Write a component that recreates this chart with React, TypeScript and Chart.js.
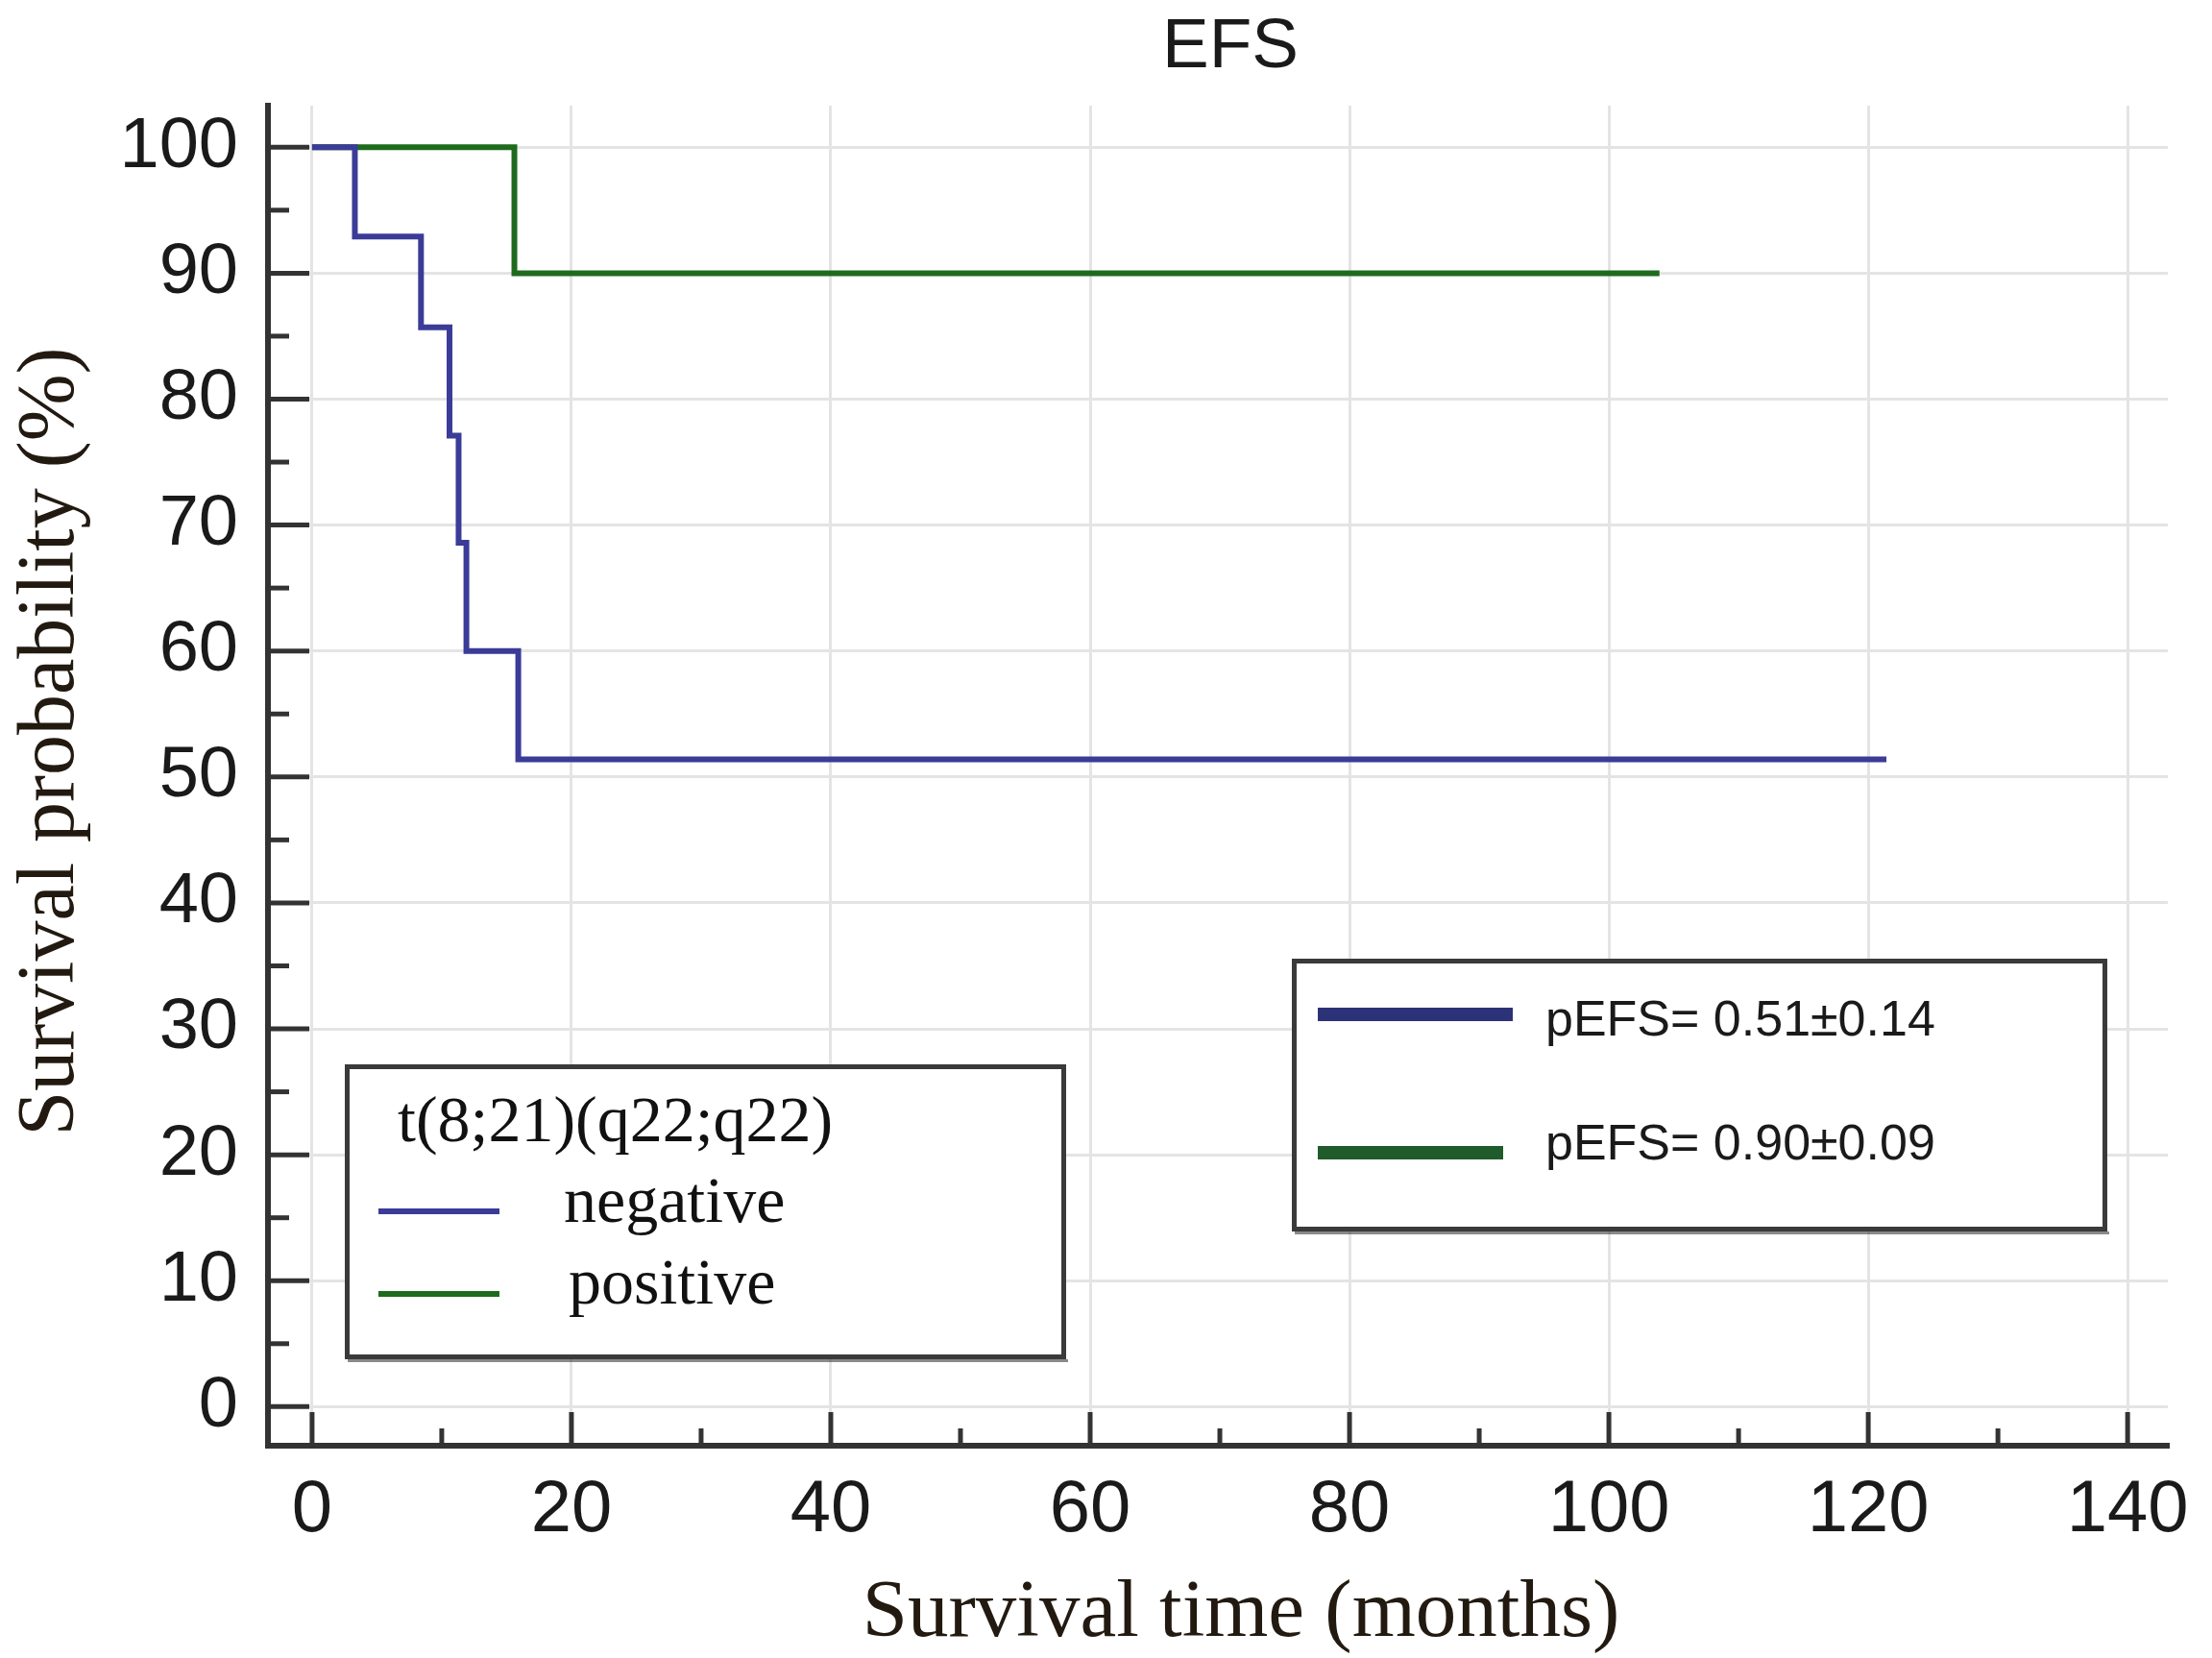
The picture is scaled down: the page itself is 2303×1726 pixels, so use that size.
import React, { useEffect, useRef } from 'react';
import { Chart, registerables } from 'chart.js';

Chart.register(...registerables);

// Kaplan-Meier steps
const negativeMonths = [0, 3.3, 8.4, 10.6, 11.3, 11.9, 15.9, 121.4];
const negativeSurvival = [100, 92.9, 85.7, 77.1, 68.6, 60.0, 51.4, 51.4];
const positiveMonths = [0, 15.6, 103.9];
const positiveSurvival = [100, 90, 90];

const xMajorTicks = [0, 20, 40, 60, 80, 100, 120, 140];
const yMajorTicks = [0, 10, 20, 30, 40, 50, 60, 70, 80, 90, 100];

const chartTitle = 'EFS';
const xTitle = 'Survival time (months)';
const yTitle = 'Survival probability (%)';
const legendTitle = 't(8;21)(q22;q22)';
const groupLabels = ['negative', 'positive'];
const estimateLabels = ['pEFS= 0.51\u00B10.14', 'pEFS= 0.90\u00B10.09'];

const BLUE = '#3b3b98';
const GREEN = '#1e6b1e';
const SANS = "'Liberation Sans', Arial, sans-serif";
const SERIF = "'Liberation Serif', 'Times New Roman', serif";

const overlayPlugin = {
    id: 'overlay',
    afterDraw(chart: any) {
        const { ctx, chartArea: a, scales } = chart;
        const x = scales.x;
        const y = scales.y;
        ctx.save();

        // ticks point into the plot
        ctx.strokeStyle = '#333';
        ctx.lineWidth = 5;
        for (let v = 0; v <= 100; v += 5) {
            const py = y.getPixelForValue(v);
            const len = v % 10 === 0 ? 43 : 22;
            ctx.beginPath();
            ctx.moveTo(a.left, py);
            ctx.lineTo(a.left + len, py);
            ctx.stroke();
        }
        for (let v = 0; v <= 140; v += 10) {
            const px = x.getPixelForValue(v);
            const len = v % 20 === 0 ? 35 : 18;
            ctx.beginPath();
            ctx.moveTo(px, a.bottom);
            ctx.lineTo(px, a.bottom - len);
            ctx.stroke();
        }

        // titles
        ctx.fillStyle = '#1a1a1a';
        ctx.textBaseline = 'alphabetic';
        ctx.textAlign = 'center';
        ctx.font = `73px ${SANS}`;
        ctx.fillText(chartTitle, 1281, 70);
        ctx.fillStyle = '#221a10';
        ctx.font = `85px ${SERIF}`;
        ctx.fillText(xTitle, 1292, 1703);
        ctx.save();
        ctx.translate(76, 772);
        ctx.rotate(-Math.PI / 2);
        ctx.font = `84px ${SERIF}`;
        ctx.fillText(yTitle, 0, 0);
        ctx.restore();

        const box = (l: number, t: number, r: number, b: number) => {
            ctx.fillStyle = '#fff';
            ctx.fillRect(l, t, r - l, b - t);
            ctx.strokeStyle = '#3a3a3a';
            ctx.lineWidth = 5;
            ctx.strokeRect(l + 2.5, t + 2.5, r - l - 5, b - t - 5);
            ctx.fillStyle = 'rgba(60,60,60,0.6)';
            ctx.fillRect(l + 3, b, r - l - 1, 3);
        };
        const seg = (x1: number, x2: number, yy: number, w: number, c: string) => {
            ctx.strokeStyle = c;
            ctx.lineWidth = w;
            ctx.beginPath();
            ctx.moveTo(x1, yy);
            ctx.lineTo(x2, yy);
            ctx.stroke();
        };

        // group legend
        box(359, 1108, 1110, 1415);
        ctx.textAlign = 'left';
        ctx.fillStyle = '#111';
        ctx.font = `68px ${SERIF}`;
        ctx.fillText(legendTitle, 414, 1188);
        seg(394, 520, 1261, 6, BLUE);
        seg(394, 520, 1347, 6, GREEN);
        ctx.fillStyle = '#111';
        ctx.font = `68px ${SERIF}`;
        ctx.fillText(groupLabels[0], 587, 1272);
        ctx.fillText(groupLabels[1], 592, 1357);

        // estimates legend
        box(1345, 998, 2194, 1282);
        seg(1372, 1575, 1056, 14, '#2c3278');
        seg(1372, 1565, 1200, 14, '#1f5b2b');
        ctx.fillStyle = '#1a1a1a';
        ctx.font = `52px ${SANS}`;
        ctx.fillText(estimateLabels[0], 1609, 1078);
        ctx.fillText(estimateLabels[1], 1609, 1207);

        ctx.restore();
    },
};

const App: React.FC = () => {
    const chartRef = useRef<HTMLCanvasElement>(null);
    const chartInstance = useRef<Chart | null>(null);

    useEffect(() => {
        document.body.style.margin = '0';
        if (!chartRef.current) return;
        const ctx = chartRef.current.getContext('2d');
        if (!ctx) return;
        chartInstance.current = new Chart(ctx, {
            type: 'line',
            data: {
                datasets: [
                    {
                        label: groupLabels[0],
                        data: negativeMonths.map((m, i) => ({ x: m, y: negativeSurvival[i] })),
                        borderColor: BLUE,
                        borderWidth: 6,
                        stepped: true,
                        pointRadius: 0,
                        fill: false,
                    },
                    {
                        label: groupLabels[1],
                        data: positiveMonths.map((m, i) => ({ x: m, y: positiveSurvival[i] })),
                        borderColor: GREEN,
                        borderWidth: 6,
                        stepped: true,
                        pointRadius: 0,
                        fill: false,
                    },
                ],
            },
            options: {
                animation: false,
                responsive: true,
                maintainAspectRatio: false,
                layout: { padding: { top: 110, right: 46, bottom: 0, left: 0 } },
                scales: {
                    x: {
                        type: 'linear',
                        min: -3.4,
                        max: 143.1,
                        afterFit: (s: any) => { s.height = 221; },
                        afterBuildTicks: (s: any) => { s.ticks = xMajorTicks.map(v => ({ value: v })); },
                        border: { display: true, color: '#333', width: 6 },
                        grid: { color: '#e4e4e4', lineWidth: 3, drawTicks: false },
                        ticks: {
                            autoSkip: false,
                            maxRotation: 0,
                            padding: 22,
                            color: '#1a1a1a',
                            font: { family: SANS, size: 76 },
                        },
                    },
                    y: {
                        min: -3.1,
                        max: 103.3,
                        afterFit: (s: any) => { s.width = 279; },
                        afterBuildTicks: (s: any) => { s.ticks = yMajorTicks.map(v => ({ value: v })); },
                        border: { display: true, color: '#333', width: 6 },
                        grid: { color: '#e4e4e4', lineWidth: 3, drawTicks: false },
                        ticks: {
                            autoSkip: false,
                            padding: 31,
                            color: '#1a1a1a',
                            font: { family: SANS, size: 74 },
                        },
                    },
                },
                plugins: {
                    legend: { display: false },
                    title: { display: false },
                    tooltip: { enabled: false },
                },
            },
            plugins: [overlayPlugin],
        });
        return () => {
            if (chartInstance.current) {
                chartInstance.current.destroy();
                chartInstance.current = null;
            }
        };
    }, []);

    return (
        <div style={{ position: 'relative', width: 2303, height: 1726, overflow: 'hidden', background: '#fff' }}>
            <canvas ref={chartRef}></canvas>
        </div>
    );
};

export default App;
